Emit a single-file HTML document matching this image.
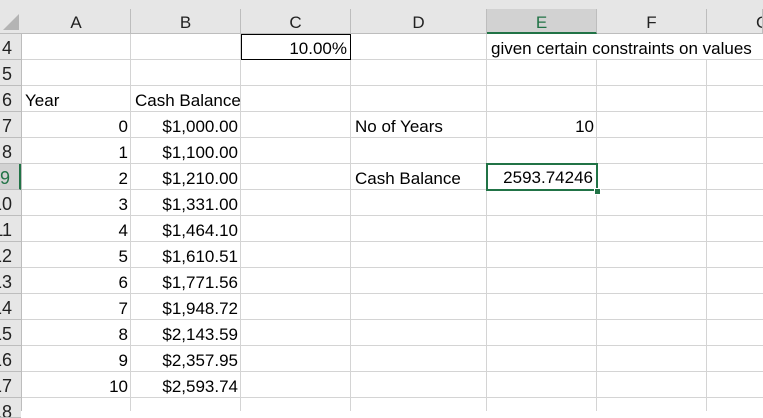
<!DOCTYPE html>
<html><head><meta charset="utf-8"><style>
body{margin:0;width:763px;height:411px;overflow:hidden;background:#fff;font-family:"Liberation Sans",sans-serif;position:relative}
.a{position:absolute}
.t{position:absolute;font-size:17px;color:#000;line-height:26px;white-space:nowrap}
.r{text-align:right}
.hl{position:absolute;background:#d4d4d4}
.ch{position:absolute;top:9px;height:25px;line-height:27px;text-align:center;font-size:17px;color:#222;border-right:1px solid #bdbdbd;box-sizing:border-box}
.rh{position:absolute;left:0;width:21px;height:26px;line-height:28px;font-size:18px;color:#222;overflow:hidden;border-bottom:1px solid #bdbdbd;box-sizing:border-box;background:#e6e6e6}
.rh span{position:absolute;right:9px;top:0;white-space:nowrap}
</style></head><body>
<div class="a" style="left:0;top:0;width:763px;height:34px;background:#e6e6e6;border-bottom:1px solid #bdbdbd;box-sizing:border-box"></div>
<div class="a" style="left:0;top:34px;width:21px;height:377px;background:#e6e6e6;border-right:1px solid #bdbdbd"></div>
<div class="a" style="left:3px;top:14px;width:0;height:0;border-left:16px solid transparent;border-bottom:16px solid #b4b4b4"></div>
<div class="ch" style="left:22px;width:109px">A</div>
<div class="ch" style="left:131px;width:110px">B</div>
<div class="ch" style="left:241px;width:110px">C</div>
<div class="ch" style="left:351px;width:136px">D</div>
<div class="ch" style="left:487px;width:110px;background:#d2d2d2;color:#217346;border-bottom:2px solid #217346">E</div>
<div class="ch" style="left:597px;width:110px">F</div>
<div class="ch" style="left:707px;width:56px;text-align:left;padding-left:49px;overflow:hidden">G</div>
<div id="grid"></div>
<script>
var g=document.getElementById('grid');
var cols=[22,131,241,351,487,597,707];
for(var i=4;i<=18;i++){
  var ty=34+(i-4)*26;
  var h=document.createElement('div');h.className='rh';
  var sp=document.createElement('span');sp.textContent=i;h.appendChild(sp);
  h.style.top=ty+'px';
  if(i===18){h.style.height='20px';}
  if(i===9){h.style.background='#d2d2d2';h.style.color='#217346';h.style.borderRight='2px solid #217346';}
  
  
  g.appendChild(h);
  if(i<18){
  var l=document.createElement('div');l.className='hl';
  l.style.left='22px';l.style.top=(ty+25)+'px';l.style.width='741px';l.style.height='1px';
  
  
  g.appendChild(l);
  }
}
for(var c=1;c<cols.length;c++){
  var v=document.createElement('div');v.className='hl';
  v.style.left=(cols[c]-1)+'px';v.style.top='34px';v.style.width='1px';v.style.height='377px';
  
  
  g.appendChild(v);
}
</script>
<div class="a" style="left:487px;top:34px;width:276px;height:25px;background:#fff"></div>
<div class="t r" style="left:241px;top:34px;width:110px;height:26px;border:1px solid #000;line-height:27px;box-sizing:border-box;padding-right:3px;background:#fff">10.00%</div>
<div class="a" style="left:487px;top:34px;width:276px;height:26px;overflow:hidden">
<div class="t" style="left:4px;top:2px">given certain constraints on values</div>
</div>
<div class="t" style="left:25px;top:88px">Year</div>
<div class="t" style="left:135px;top:88px">Cash Balance</div>
<div id="rows"></div>
<script>
var years=[0,1,2,3,4,5,6,7,8,9,10];
var bal=["$1,000.00","$1,100.00","$1,210.00","$1,331.00","$1,464.10","$1,610.51","$1,771.56","$1,948.72","$2,143.59","$2,357.95","$2,593.74"];
var R=document.getElementById('rows');
for(var k=0;k<years.length;k++){
  var yy=112+k*26+2;
  var a=document.createElement('div');a.className='t r';a.textContent=years[k];
  a.style.left='22px';a.style.width='106px';a.style.top=yy+'px';
  
  
  R.appendChild(a);
  var b=document.createElement('div');b.className='t r';b.textContent=bal[k];
  b.style.left='131px';b.style.width='107px';b.style.top=yy+'px';
  
  
  R.appendChild(b);
}
</script>
<div class="t" style="left:355px;top:114px">No of Years</div>
<div class="t r" style="left:487px;width:107px;top:114px">10</div>
<div class="t" style="left:355px;top:166px">Cash Balance</div>
<div class="t r" style="left:486px;top:163px;width:112px;height:28px;border:2px solid #217346;box-sizing:border-box;line-height:26px;padding-right:3px;background:#fff">2593.74246</div>
<div class="a" style="left:594px;top:188px;width:5px;height:5px;background:#217346;border:1px solid #fff"></div>
</body></html>
